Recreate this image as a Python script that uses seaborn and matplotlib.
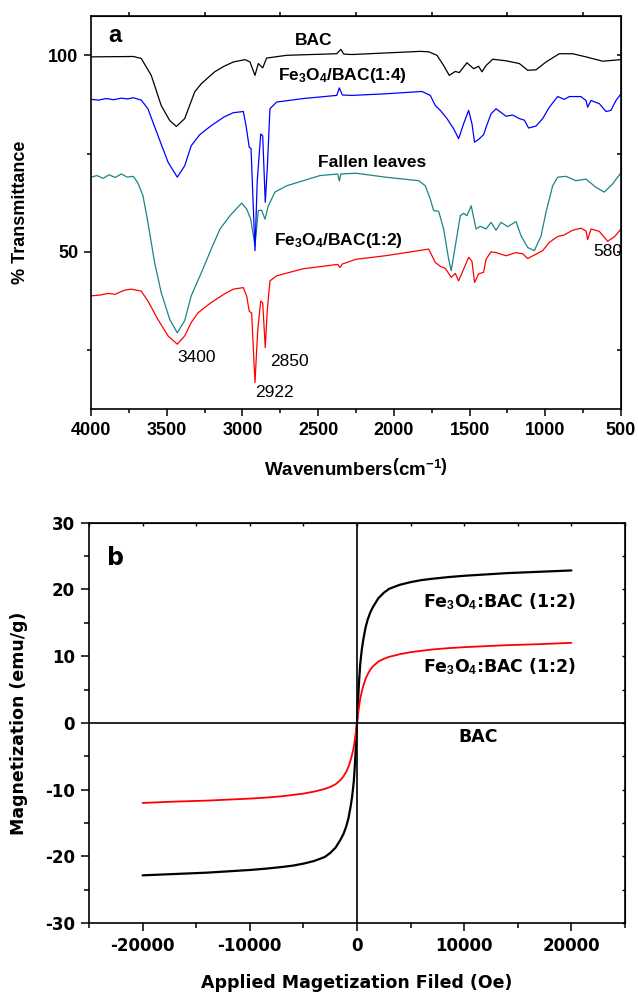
import pandas as pd
import seaborn as sns
import matplotlib.pyplot as plt
from matplotlib.ticker import MultipleLocator

# -----------------------------
# Data
# -----------------------------
# (a) FTIR spectra: wavenumber (cm-1) and % transmittance
bac_wn = [4000, 3720, 3668, 3602, 3536, 3480, 3436, 3381, 3315, 3271,
          3183, 3122, 3060, 2983, 2950, 2917, 2895, 2866, 2840, 2708,
          2377, 2350, 2330, 2276, 1827, 1770, 1715, 1671, 1634, 1594,
          1568, 1517, 1473, 1440, 1418, 1391, 1347, 1259, 1171, 1116,
          1061, 995, 907, 819, 731, 621, 500]
bac_t = [99.6, 99.7, 99.2, 94.9, 87.2, 83.4, 81.9, 83.9, 90.7, 92.8,
         95.8, 97.2, 98.3, 98.9, 98.3, 94.9, 97.9, 96.8, 99.3, 100.0,
         100.4, 101.5, 100.3, 100.2, 101.0, 100.9, 100.0, 97.4, 94.9, 95.9,
         95.6, 98.1, 96.6, 97.2, 95.8, 97.4, 99.0, 98.6, 97.9, 96.2,
         96.3, 98.3, 100.4, 100.4, 99.6, 98.5, 98.9]

fe14_wn = [4000, 3950, 3900, 3850, 3800, 3760, 3720, 3668, 3624, 3558,
           3491, 3430, 3381, 3338, 3282, 3206, 3122, 3060, 2994, 2976,
           2955, 2943, 2917, 2902, 2879, 2866, 2849, 2836, 2818, 2774,
           2598, 2377, 2360, 2340, 2276, 2056, 1814, 1759, 1726, 1693,
           1649, 1605, 1572, 1539, 1506, 1484, 1467, 1440, 1407, 1391,
           1358, 1325, 1259, 1215, 1171, 1138, 1110, 1061, 1017, 973,
           918, 874, 841, 764, 731, 720, 698, 643, 599, 566,
           533, 500]
fe14_t = [88.8, 88.6, 89.0, 88.7, 89.1, 88.9, 89.2, 88.6, 86.4, 79.6,
          72.8, 69.0, 71.9, 77.0, 79.8, 82.1, 84.3, 85.4, 85.7, 82.1,
          76.6, 76.3, 50.3, 68.0, 80.0, 79.5, 62.6, 71.0, 86.4, 88.1,
          89.0, 89.8, 91.7, 89.9, 89.8, 90.2, 90.8, 89.8, 87.2, 86.0,
          83.9, 81.3, 78.8, 82.6, 86.0, 82.6, 77.9, 78.6, 79.8, 81.7,
          85.1, 86.4, 84.5, 84.8, 83.9, 83.5, 81.5, 82.0, 83.9, 86.8,
          89.5, 88.8, 89.5, 89.5, 88.5, 86.8, 88.5, 87.7, 85.7, 86.0,
          88.5, 90.2]

leaves_wn = [4000, 3960, 3920, 3880, 3840, 3800, 3760, 3720, 3690, 3657,
             3624, 3580, 3536, 3480, 3430, 3381, 3338, 3271, 3206, 3148,
             3082, 3005, 2972, 2945, 2917, 2895, 2873, 2851, 2829, 2785,
             2708, 2488, 2370, 2360, 2350, 2250, 2056, 1836, 1792, 1759,
             1737, 1704, 1671, 1638, 1621, 1594, 1561, 1539, 1517, 1489,
             1457, 1429, 1391, 1358, 1325, 1292, 1248, 1193, 1160, 1116,
             1072, 1028, 995, 951, 918, 863, 797, 731, 665, 610,
             555, 500]
leaves_t = [69.0, 69.4, 68.7, 69.6, 68.9, 69.8, 69.0, 69.2, 67.5, 64.3,
            57.5, 47.3, 39.6, 32.8, 29.4, 32.5, 38.8, 44.7, 50.7, 55.8,
            59.2, 62.4, 60.9, 58.3, 51.5, 60.5, 60.6, 58.3, 61.7, 65.2,
            66.8, 69.4, 69.8, 68.0, 69.8, 70.0, 69.0, 68.1, 66.8, 63.4,
            60.5, 60.3, 55.8, 48.1, 45.2, 51.5, 59.2, 59.8, 59.2, 61.7,
            55.8, 56.5, 55.8, 57.5, 55.5, 57.5, 56.4, 57.7, 54.1, 51.1,
            50.3, 54.0, 60.1, 66.8, 69.0, 69.2, 68.1, 68.5, 66.4, 65.2,
            67.3, 70.1]

fe12_wn = [4000, 3940, 3888, 3840, 3800, 3770, 3734, 3668, 3624, 3558,
           3491, 3430, 3381, 3338, 3293, 3206, 3122, 3060, 2994, 2972,
           2955, 2939, 2917, 2899, 2879, 2866, 2849, 2836, 2818, 2774,
           2598, 2370, 2356, 2340, 2250, 2056, 1836, 1770, 1748, 1726,
           1693, 1660, 1621, 1594, 1572, 1539, 1506, 1484, 1467, 1440,
           1407, 1391, 1358, 1325, 1259, 1193, 1149, 1116, 1061, 1017,
           973, 918, 874, 819, 764, 731, 720, 698, 643, 588,
           544, 500]
fe12_t = [38.8, 39.0, 39.4, 39.2, 39.9, 40.3, 40.5, 40.0, 37.5, 32.8,
          28.6, 26.5, 28.6, 32.0, 34.5, 37.1, 39.2, 40.5, 40.9, 38.8,
          34.9, 34.4, 16.7, 30.0, 37.5, 37.0, 25.6, 35.0, 42.6, 43.9,
          45.7, 46.8, 46.0, 46.9, 48.1, 49.0, 50.3, 50.7, 49.0, 47.3,
          46.3, 45.8, 43.5, 44.5, 42.6, 45.6, 48.6, 47.6, 42.2, 44.4,
          44.8, 48.1, 50.0, 49.8, 49.0, 49.8, 49.5, 48.3, 49.4, 50.3,
          52.4, 53.9, 54.3, 55.5, 56.0, 55.3, 53.1, 55.8, 55.2, 52.7,
          53.8, 55.8]

# (b) magnetization curves: field (Oe) and magnetization (emu/g)
field = [-20000, -17000, -14000, -12000, -10000, -8500, -7000, -6000, -5000, -4000,
         -3000, -2500, -2000, -1500, -1250, -1000, -800, -600, -450, -300,
         -200, -100, 0, 100, 200, 300, 450, 600, 800, 1000,
         1250, 1500, 2000, 2500, 3000, 4000, 5000, 6000, 7000, 8500,
         10000, 12000, 14000, 17000, 20000]
mag_black = [-22.85, -22.65, -22.45, -22.25, -22.05, -21.85, -21.6, -21.4, -21.1, -20.7,
             -20.1, -19.5, -18.7, -17.4, -16.6, -15.5, -14.3, -12.6, -11.0, -8.8,
             -6.4, -3.4, 0.0, 3.4, 6.4, 8.8, 11.0, 12.6, 14.3, 15.5,
             16.6, 17.4, 18.7, 19.5, 20.1, 20.7, 21.1, 21.4, 21.6, 21.85,
             22.05, 22.25, 22.45, 22.65, 22.85]
mag_red = [-12.0, -11.8, -11.65, -11.5, -11.35, -11.2, -11.0, -10.8, -10.6, -10.3,
           -9.9, -9.6, -9.2, -8.5, -8.0, -7.3, -6.6, -5.6, -4.7, -3.6,
           -2.5, -1.3, 0.0, 1.3, 2.5, 3.6, 4.7, 5.6, 6.6, 7.3,
           8.0, 8.5, 9.2, 9.6, 9.9, 10.3, 10.6, 10.8, 11.0, 11.2,
           11.35, 11.5, 11.65, 11.8, 12.0]

# -----------------------------
# Styling
# -----------------------------
sns.set_style("ticks", rc={'text.color': 'black', 'axes.labelcolor': 'black',
                           'xtick.color': 'black', 'ytick.color': 'black',
                           'axes.edgecolor': 'black'})
plt.rcParams['font.family'] = ['Liberation Sans', 'DejaVu Sans']
plt.rcParams['axes.unicode_minus'] = False
plt.rcParams['mathtext.fontset'] = 'custom'
plt.rcParams['mathtext.rm'] = 'Liberation Sans:bold'
plt.rcParams['mathtext.it'] = 'Liberation Sans:bold'
plt.rcParams['mathtext.bf'] = 'Liberation Sans:bold'

ARIAL = ['Liberation Sans', 'DejaVu Sans']
DEJA = ['DejaVu Sans']

fig = plt.figure(figsize=(6.38, 9.94), dpi=100)
ax1 = fig.add_axes([0.1426, 0.5885, 0.8307, 0.3954])
ax2 = fig.add_axes([0.1395, 0.0714, 0.8401, 0.4027])

# -----------------------------
# Panel a: FTIR
# -----------------------------
spectra = [
    (leaves_wn, leaves_t, '#1a8585'),
    (bac_wn, bac_t, 'black'),
    (fe14_wn, fe14_t, '#0000ff'),
    (fe12_wn, fe12_t, '#ff0000'),
]
for wn, t, col in spectra:
    df = pd.DataFrame({'wn': wn, 't': t})
    sns.lineplot(data=df, x='wn', y='t', ax=ax1, color=col, lw=0.9,
                 estimator=None, sort=False)

ax1.set_xlim(4000, 500)
ax1.set_ylim(10, 110)
ax1.set_xticks([4000, 3500, 3000, 2500, 2000, 1500, 1000, 500])
ax1.xaxis.set_minor_locator(MultipleLocator(250))
ax1.set_yticks([100, 50])
ax1.set_yticks([75, 25], minor=True)
ax1.tick_params(axis='both', which='major', direction='out', length=5, width=1.1,
                labelsize=13, pad=4)
ax1.tick_params(axis='both', which='minor', direction='out', length=3, width=1.1)
for sp in ax1.spines.values():
    sp.set_linewidth(1.2)
    sp.set_visible(True)

top1 = ax1.secondary_xaxis('top')
top1.set_xticks([3750, 3250, 2750, 2250, 1750, 1250, 750])
top1.tick_params(direction='out', length=3, width=1.1, labeltop=False)
right1 = ax1.secondary_yaxis('right')
right1.set_yticks([100, 75, 50, 25])
right1.tick_params(direction='in', length=3, width=1.1, labelright=False)

ax1.set_xlabel(r'Wavenumbers$\left(\mathrm{cm^{-1}}\right)$', fontsize=13.5,
               fontweight='bold', family=ARIAL, labelpad=14)
ax1.set_ylabel('% Transmittance', fontsize=13, fontweight='bold', family=ARIAL,
               labelpad=14)
for lbl in ax1.get_xticklabels() + ax1.get_yticklabels():
    lbl.set_fontweight('bold')
    lbl.set_family(ARIAL)

bold_a = dict(fontsize=12.5, fontweight='bold', family=ARIAL, va='center')
ax1.text(3845, 105.0, 'a', fontsize=17, fontweight='bold', family=ARIAL,
         ha='center', va='center')
ax1.text(2653, 103.8, 'BAC', ha='left', **bold_a)
ax1.text(2765, 94.9, r'Fe$_3$O$_4$/BAC(1:4)', ha='left', **bold_a)
ax1.text(2501, 72.8, 'Fallen leaves', ha='left', **bold_a)
ax1.text(2791, 52.8, r'Fe$_3$O$_4$/BAC(1:2)', ha='left', **bold_a)
norm_a = dict(fontsize=12.5, family=ARIAL, ha='center', va='center')
ax1.text(3302, 23.2, '3400', **norm_a)
ax1.text(2791, 14.1, '2922', **norm_a)
ax1.text(2692, 22.2, '2850', **norm_a)
ax1.text(586, 50.0, '580', **norm_a)

# -----------------------------
# Panel b: magnetization
# -----------------------------
mag = pd.DataFrame({'H': field * 2,
                    'M': mag_black + mag_red,
                    'sample': ['black'] * len(field) + ['red'] * len(field)})
sns.lineplot(data=mag, x='H', y='M', hue='sample',
             palette={'black': 'black', 'red': '#ff0000'}, ax=ax2,
             lw=1.6, estimator=None, legend=False)
ax2.lines[1].set_linewidth(1.3)
ax2.axhline(0, color='black', lw=1.2)
ax2.axvline(0, color='black', lw=1.2)

ax2.set_xlim(-25000, 25000)
ax2.set_ylim(-30, 30)
ax2.set_xticks([-20000, -10000, 0, 10000, 20000])
ax2.xaxis.set_minor_locator(MultipleLocator(5000))
ax2.set_yticks([-30, -20, -10, 0, 10, 20, 30])
ax2.yaxis.set_minor_locator(MultipleLocator(5))
ax2.tick_params(axis='both', which='major', direction='out', length=6, width=1.1,
                labelsize=12, pad=4)
ax2.tick_params(axis='both', which='minor', direction='out', length=3.5, width=1.1)
for sp in ax2.spines.values():
    sp.set_linewidth(1.2)
    sp.set_visible(True)

top2 = ax2.secondary_xaxis('top')
top2.set_xticks([-25000, -20000, -15000, -10000, -5000, 0, 5000, 10000, 15000, 20000, 25000])
top2.tick_params(direction='in', length=2.5, width=1.0, labeltop=False)
right2 = ax2.secondary_yaxis('right')
right2.set_yticks([-30, -25, -20, -15, -10, -5, 0, 5, 10, 15, 20, 25, 30])
right2.tick_params(direction='in', length=2.5, width=1.0, labelright=False)

ax2.set_xlabel('Applied Magetization Filed (Oe)', fontsize=12.5, fontweight='bold',
               family=DEJA, labelpad=14)
ax2.set_ylabel('Magnetization (emu/g)', fontsize=12.5, fontweight='bold',
               family=DEJA, labelpad=12)
for lbl in ax2.get_xticklabels() + ax2.get_yticklabels():
    lbl.set_fontweight('bold')
    lbl.set_family(DEJA)

bold_b = dict(fontsize=12.5, fontweight='bold', family=DEJA, va='center')
ax2.text(-22530, 24.7, 'b', fontsize=17, fontweight='bold', family=DEJA,
         ha='center', va='center')
ax2.text(6145, 18.1, r'Fe$_3$O$_4$:BAC (1:2)', ha='left', **bold_b)
ax2.text(6145, 8.4, r'Fe$_3$O$_4$:BAC (1:2)', ha='left', **bold_b)
ax2.text(11270, -2.1, 'BAC', ha='center', **bold_b)

fig.savefig('out.png', dpi=100)
plt.close(fig)
